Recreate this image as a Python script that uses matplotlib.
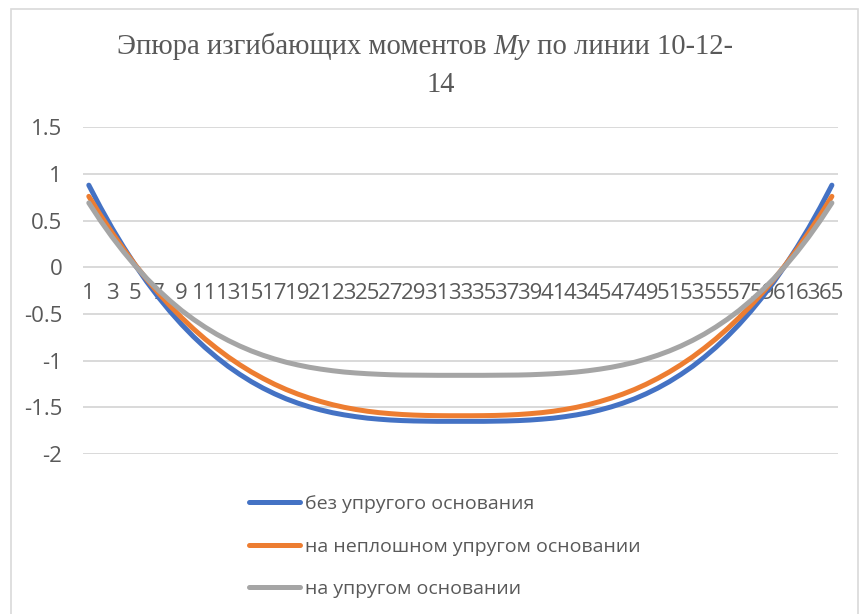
import matplotlib
matplotlib.use('Agg')
import matplotlib.pyplot as plt
from matplotlib.lines import Line2D
from matplotlib.patches import Rectangle

plt.rcParams['font.family'] = ['Open Sans', 'DejaVu Sans']

W, H = 859, 614
TEXT = '#595959'
GRID = '#D9D9D9'
SERIF = 'Liberation Serif'

# номера точек по линии 10-12-14
points = list(range(1, 66))

# моменты My без упругого основания
no_base = [0.880, 0.643, 0.421, 0.215, 0.023, -0.156, -0.321, -0.473, -0.613, -0.741,
           -0.858, -0.964, -1.061, -1.147, -1.225, -1.294, -1.355, -1.409, -1.455, -1.495,
           -1.529, -1.558, -1.581, -1.600, -1.616, -1.627, -1.636, -1.642, -1.646, -1.648,
           -1.650, -1.650, -1.650, -1.650, -1.650, -1.648, -1.646, -1.642, -1.636, -1.627,
           -1.616, -1.600, -1.581, -1.558, -1.529, -1.495, -1.455, -1.409, -1.355, -1.294,
           -1.225, -1.147, -1.061, -0.964, -0.858, -0.741, -0.613, -0.473, -0.321, -0.156,
           0.023, 0.215, 0.421, 0.643, 0.880]

# на неплошном упругом основании
partial_base = [0.760, 0.560, 0.372, 0.194, 0.027, -0.130, -0.276, -0.413, -0.540, -0.658,
                -0.767, -0.867, -0.960, -1.044, -1.121, -1.190, -1.253, -1.309, -1.358, -1.401,
                -1.439, -1.472, -1.500, -1.523, -1.542, -1.557, -1.568, -1.577, -1.583, -1.587,
                -1.589, -1.590, -1.590, -1.590, -1.589, -1.587, -1.583, -1.577, -1.568, -1.557,
                -1.542, -1.523, -1.500, -1.472, -1.439, -1.401, -1.358, -1.309, -1.253, -1.190,
                -1.121, -1.044, -0.960, -0.867, -0.767, -0.658, -0.540, -0.413, -0.276, -0.130,
                0.027, 0.194, 0.372, 0.560, 0.760]

# на сплошном упругом основании
full_base = [0.690, 0.501, 0.326, 0.165, 0.016, -0.121, -0.245, -0.359, -0.463, -0.556,
             -0.640, -0.716, -0.783, -0.843, -0.896, -0.942, -0.982, -1.017, -1.046, -1.071,
             -1.091, -1.108, -1.122, -1.132, -1.140, -1.146, -1.151, -1.154, -1.155, -1.156,
             -1.157, -1.157, -1.157, -1.157, -1.157, -1.156, -1.155, -1.154, -1.151, -1.146,
             -1.140, -1.132, -1.122, -1.108, -1.091, -1.071, -1.046, -1.017, -0.982, -0.942,
             -0.896, -0.843, -0.783, -0.716, -0.640, -0.556, -0.463, -0.359, -0.245, -0.121,
             0.016, 0.165, 0.326, 0.501, 0.690]

series = [
    (no_base, '#4472C4', 'без упругого основания'),
    (partial_base, '#ED7D31', 'на неплошном упругом основании'),
    (full_base, '#A5A5A5', 'на упругом основании'),
]

y_ticks = [-2, -1.5, -1, -0.5, 0, 0.5, 1, 1.5]
y_labels = ['-2', '-1.5', '-1', '-0.5', '0', '0.5', '1', '1.5']

title_parts = [('Эпюра изгибающих моментов ', 'normal'),
               ('My', 'italic'),
               (' по линии 10-12-', 'normal')]


def fx(px):
    return px / W


def fy(py):
    return 1 - py / H


fig = plt.figure(figsize=(W / 100, H / 100), dpi=100)

# рамка области диаграммы
fig.add_artist(Rectangle((fx(11), fy(640)), fx(858) - fx(11), fy(9) - fy(640),
                         transform=fig.transFigure, fill=False,
                         edgecolor=GRID, linewidth=1.2))

ax = fig.add_axes([fx(83), fy(454), fx(837.7) - fx(83), fy(127.3) - fy(454)])
ax.set_axisbelow(True)

for vals, color, label in series:
    ax.plot(points, vals, color=color, linewidth=3.6,
            solid_capstyle='round', solid_joinstyle='round', zorder=3)

ax.set_xlim(0.5, 65.5)
ax.set_ylim(-2, 1.5)
ax.set_yticks(y_ticks)
ax.set_yticklabels(y_labels)
ax.yaxis.grid(True, color=GRID, linewidth=1.4)
ax.set_xticks(points[::2])
ax.set_xticklabels([str(p) for p in points[::2]])
ax.spines['bottom'].set_position(('data', 0))
for s in ax.spines.values():
    s.set_visible(False)
ax.tick_params(axis='y', length=0, pad=15, labelsize=16, labelcolor=TEXT)
ax.tick_params(axis='x', length=0, pad=11, labelsize=16, labelcolor=TEXT)

# заголовок: первая строка собирается из кусков, My курсивом
renderer = fig.canvas.get_renderer()
x0 = 117
for txt, style in title_parts:
    t = fig.text(fx(x0), fy(53.5), txt, ha='left', va='baseline', fontsize=20.6,
                 family=SERIF, style=style, color=TEXT)
    bb = t.get_window_extent(renderer)
    x0 += bb.width
fig.text(fx(441), fy(91.7), '14', ha='center', va='baseline', fontsize=20.6,
         family=SERIF, color=TEXT)

# легенда под графиком
rows_y = [502.3, 545, 587]
for (vals, color, label), ry in zip(series, rows_y):
    fig.add_artist(Line2D([fx(249), fx(300)], [fy(ry), fy(ry)], color=color,
                          linewidth=3.6, solid_capstyle='round',
                          transform=fig.transFigure))
    fig.text(fx(305), fy(ry), label, ha='left', va='center_baseline',
             fontsize=14, color=TEXT)

fig.savefig('out.png', dpi=100)
